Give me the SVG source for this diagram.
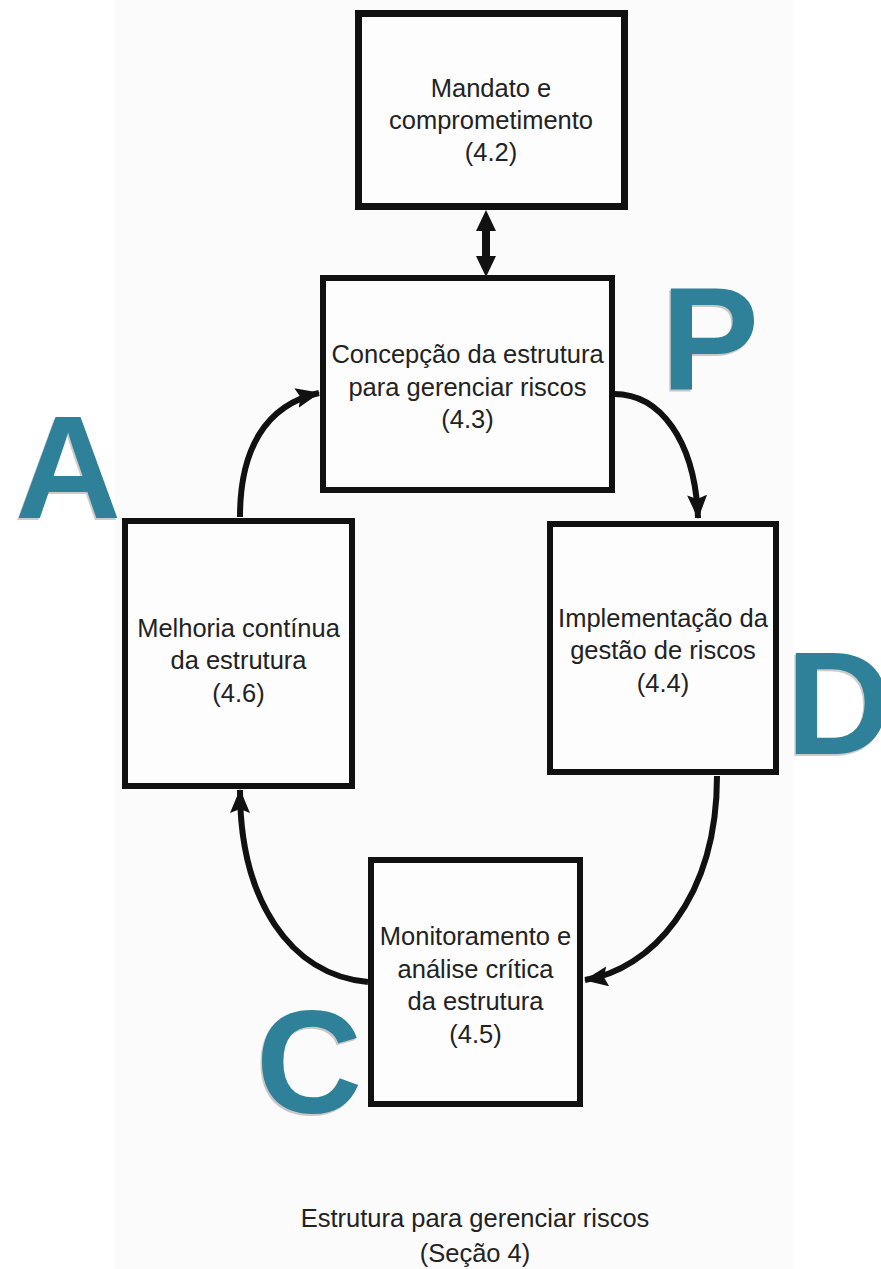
<svg xmlns="http://www.w3.org/2000/svg" width="881" height="1269" viewBox="0 0 881 1269">
  <style>
    .box { fill: #fdfdfd; stroke: #111; stroke-width: 6; }
    .lbl { font-family: "Liberation Sans", Arial, sans-serif; font-size: 25.5px; fill: #222; text-anchor: middle; }
    .big { font-family: "Liberation Sans", Arial, sans-serif; font-weight: bold; font-size: 147px; fill: #2e8198; }
    .bigsh { font-family: "Liberation Sans", Arial, sans-serif; font-weight: bold; font-size: 147px; fill: #555; opacity: 0.3; }
    .conn { fill: none; stroke: #111; stroke-width: 6; }
  </style>
  <defs>
    <marker id="ah" markerUnits="userSpaceOnUse" markerWidth="26" markerHeight="22" refX="23" refY="10" orient="auto">
      <path d="M0,0 L24,10 L0,20 L4,10 z" fill="#111"/>
    </marker>
  </defs>
  <rect x="0" y="0" width="881" height="1269" fill="#ffffff"/>
  <rect x="115" y="0" width="678" height="1269" fill="#fbfbfb"/>

  <g id="connectors">
    <line x1="486" y1="226" x2="486" y2="262" stroke="#111" stroke-width="8"/>
    <polygon points="486,210 476,231 496,231" fill="#111"/>
    <polygon points="486,277 476,256 496,256" fill="#111"/>
    <path class="conn" d="M240,517 C240,450 265,405 319,393" marker-end="url(#ah)"/>
    <path class="conn" d="M614,394 C660,394 695,440 698,518" marker-end="url(#ah)"/>
    <path class="conn" d="M717,776 C717,900 650,970 585,980" marker-end="url(#ah)"/>
    <path class="conn" d="M368,982 C290,975 240,900 240,790" marker-end="url(#ah)"/>
  </g>

  <g id="node-mandato">
    <rect class="box" x="358.5" y="13.5" width="266" height="193" style="stroke-width:7"/>
    <text class="lbl" x="491" y="97">Mandato e</text>
    <text class="lbl" x="491" y="129">comprometimento</text>
    <text class="lbl" x="491" y="161">(4.2)</text>
  </g>

  <g id="node-concepcao">
    <rect class="box" x="323" y="278" width="289" height="212"/>
    <text class="lbl" x="467.5" y="363">Concepção da estrutura</text>
    <text class="lbl" x="467.5" y="396">para gerenciar riscos</text>
    <text class="lbl" x="467.5" y="428">(4.3)</text>
  </g>

  <g id="node-implementacao">
    <rect class="box" x="550" y="524" width="226" height="248"/>
    <text class="lbl" x="663" y="627">Implementação da</text>
    <text class="lbl" x="663" y="659">gestão de riscos</text>
    <text class="lbl" x="663" y="692">(4.4)</text>
  </g>

  <g id="node-monitoramento">
    <rect class="box" x="371" y="860" width="209" height="244"/>
    <text class="lbl" x="475.5" y="945">Monitoramento e</text>
    <text class="lbl" x="475.5" y="978">análise crítica</text>
    <text class="lbl" x="475.5" y="1010">da estrutura</text>
    <text class="lbl" x="475.5" y="1043">(4.5)</text>
  </g>

  <g id="node-melhoria">
    <rect class="box" x="125" y="521" width="227" height="265"/>
    <text class="lbl" x="238.5" y="637">Melhoria contínua</text>
    <text class="lbl" x="238.5" y="669">da estrutura</text>
    <text class="lbl" x="238.5" y="702">(4.6)</text>
  </g>

  <g id="pdca-letters">
    <text class="bigsh" x="659.5" y="391.5">P</text>
    <text class="big" x="661" y="390">P</text>
    <text class="bigsh" x="784.5" y="755.5">D</text>
    <text class="big" x="786" y="754">D</text>
    <text class="bigsh" x="254.5" y="1114.5">C</text>
    <text class="big" x="256" y="1113">C</text>
    <text class="bigsh" x="13.5" y="519.5">A</text>
    <text class="big" x="15" y="518">A</text>
  </g>

  <g id="caption">
    <text class="lbl" x="475" y="1227">Estrutura para gerenciar riscos</text>
    <text class="lbl" x="475" y="1262">(Seção 4)</text>
  </g>
</svg>
